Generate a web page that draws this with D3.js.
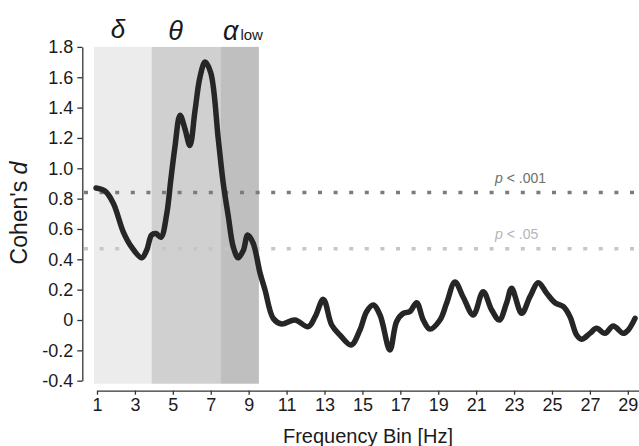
<!DOCTYPE html>
<html>
<head>
<meta charset="utf-8">
<script src="https://cdn.jsdelivr.net/npm/d3@7"></script>
<style>
  body { margin: 0; background: #fff; }
  text { font-family: "Liberation Sans", Arial, sans-serif; }
</style>
</head>
<body>
<div id="chart"></div>
<script>
// frequency bin (Hz) and Cohen's d
var freq = [0.95, 1.42, 1.86, 2.39, 2.83, 3.36, 3.62, 3.88, 4.11, 4.37, 4.68, 4.89, 5.11, 5.38, 5.64, 5.9,
            6.17, 6.43, 6.7, 7.0, 7.4, 7.66, 7.93, 8.19, 8.45, 8.72, 8.95, 9.24, 9.6, 9.86, 10.3, 10.74,
            11.44, 12.14, 12.5, 12.94, 13.38, 13.82, 14.4, 14.87, 15.22, 15.57, 15.93, 16.45, 16.8, 17.15,
            17.5, 17.86, 18.21, 18.56, 19.09, 19.44, 19.88, 20.32, 20.85, 21.37, 21.82, 22.22, 22.6, 22.87,
            23.4, 23.84, 24.28, 24.72, 25.16, 25.6, 25.95, 26.3, 26.56, 27.0, 27.35, 27.79, 28.23, 28.76,
            29.02, 29.38];
var cohenD = [0.87, 0.85, 0.77, 0.58, 0.48, 0.41, 0.46, 0.56, 0.57, 0.545, 0.70, 0.92, 1.14, 1.35, 1.26, 1.15,
              1.38, 1.60, 1.70, 1.63, 1.19, 0.90, 0.68, 0.48, 0.41, 0.46, 0.56, 0.505, 0.31, 0.20, 0.01, -0.026,
              0.0, -0.044, 0.02, 0.136, -0.033, -0.10, -0.165, -0.066, 0.055, 0.099, 0.033, -0.198, -0.011, 0.044,
              0.055, 0.114, 0.0, -0.06, 0.0, 0.11, 0.25, 0.15, 0.033, 0.187, 0.066, 0.0, 0.11, 0.209,
              0.044, 0.154, 0.246, 0.176, 0.114, 0.088, 0.022, -0.099, -0.127, -0.088, -0.055, -0.088, -0.04, -0.088,
              -0.066, 0.011];

// frequency bands
var bandStart = [0.84, 3.88, 7.54];
var bandEnd = [3.88, 7.54, 9.54];
var bandColor = ["#ececec", "#d0d0d0", "#bfbfbf"];

// significance thresholds
var thresholdValue = [0.84, 0.47];
var thresholdLabel = [".001", ".05"];
var thresholdColor = ["#7b7b7b", "#c6c6c6"];
var thresholdTextColor = ["#6e6e6e", "#b5b5b5"];

var xTicks = [1, 3, 5, 7, 9, 11, 13, 15, 17, 19, 21, 23, 25, 27, 29];
var yTicks = [-0.4, -0.2, 0, 0.2, 0.4, 0.6, 0.8, 1.0, 1.2, 1.4, 1.6, 1.8];

drawChart();
function drawChart(){
    var width = 639, height = 446;

    var svg = d3.select("#chart")
      .append("svg")
        .attr("width", width)
        .attr("height", height);

    var x = d3.scaleLinear()
        .domain([1, 29.59])
        .range([97, 639]);

    var y = d3.scaleLinear()
        .domain([-0.4, 1.8])
        .range([380.7, 46.9]);

    // band shading
    svg.append("g")
      .selectAll("rect")
      .data(bandStart)
      .enter()
      .append("rect")
        .attr("x", function(d) { return x(d); })
        .attr("width", function(d, i) { return x(bandEnd[i]) - x(d); })
        .attr("y", y(1.8))
        .attr("height", y(-0.42) - y(1.8))
        .style("fill", function(d, i) { return bandColor[i]; });

    // band labels
    var greek = svg.append("g")
        .style("font-family", "'Liberation Serif', 'DejaVu Serif', serif")
        .style("font-style", "italic")
        .style("fill", "#1a1a1a");
    greek.append("text").attr("x", 118).attr("y", 38).attr("text-anchor", "middle")
        .style("font-size", "26px").text("δ");
    greek.append("text").attr("x", 175.5).attr("y", 40).attr("text-anchor", "middle")
        .style("font-size", "27px").text("θ");
    var a = greek.append("text").attr("x", 223).attr("y", 40).style("font-size", "27px");
    a.append("tspan").text("α");
    a.append("tspan")
        .style("font-family", "'Liberation Sans', Arial, sans-serif")
        .style("font-style", "normal")
        .style("font-size", "15px")
        .attr("dx", 2)
        .text("low");

    // threshold lines
    svg.append("g")
      .selectAll("line")
      .data(thresholdValue)
      .enter()
      .append("line")
        .attr("x1", 84)
        .attr("x2", width)
        .attr("y1", function(d) { return y(d); })
        .attr("y2", function(d) { return y(d); })
        .style("stroke", function(d, i) { return thresholdColor[i]; })
        .style("stroke-width", 3.5)
        .style("stroke-dasharray", "4,11.6");

    var pl = svg.append("g")
      .selectAll("text")
      .data(thresholdValue)
      .enter()
      .append("text")
        .attr("x", 495)
        .attr("y", function(d) { return y(d) - 9.5; })
        .style("font-size", "14px")
        .style("fill", function(d, i) { return thresholdTextColor[i]; });
    pl.append("tspan").style("font-style", "italic").text("p");
    pl.append("tspan").text(function(d, i) { return " < " + thresholdLabel[i]; });

    // axes
    var xAxis = svg.append("g")
        .attr("transform", "translate(0,390.7)")
        .call(d3.axisBottom(x).tickValues(xTicks).tickSize(4).tickSizeOuter(0).tickPadding(3.5));

    var yAxis = svg.append("g")
        .attr("transform", "translate(82.3,0)")
        .call(d3.axisLeft(y).tickValues(yTicks).tickSize(5).tickSizeOuter(0).tickPadding(4)
            .tickFormat(function(d) { return d === 0 ? "0" : d.toFixed(1); }));

    [xAxis, yAxis].forEach(function(g) {
        g.select(".domain").style("stroke", "#333").style("stroke-width", 1.3);
        g.selectAll(".tick line").style("stroke", "#333").style("stroke-width", 1.3);
        g.selectAll(".tick text")
            .style("font-family", "'Liberation Sans', Arial, sans-serif")
            .style("font-size", "18px")
            .style("fill", "#1a1a1a");
    });

    // axis titles
    svg.append("text")
        .attr("x", 368)
        .attr("y", 443)
        .attr("text-anchor", "middle")
        .style("font-size", "20px")
        .style("fill", "#1a1a1a")
        .text("Frequency Bin [Hz]");

    var yl = svg.append("text")
        .attr("text-anchor", "middle")
        .attr("transform", "translate(27,213)rotate(-90)")
        .style("font-size", "23px")
        .style("fill", "#1a1a1a");
    yl.append("tspan").text("Cohen's ");
    yl.append("tspan").style("font-style", "italic").text("d");

    // effect-size curve
    var line = d3.line()
        .x(function(d, i) { return x(freq[i]); })
        .y(function(d) { return y(d); })
        .curve(d3.curveCatmullRom);

    svg.append("path")
        .datum(cohenD)
        .attr("d", line)
        .style("fill", "none")
        .style("stroke", "#262626")
        .style("stroke-width", 5.5)
        .style("stroke-linecap", "round")
        .style("stroke-linejoin", "round");
}
</script>
</body>
</html>
